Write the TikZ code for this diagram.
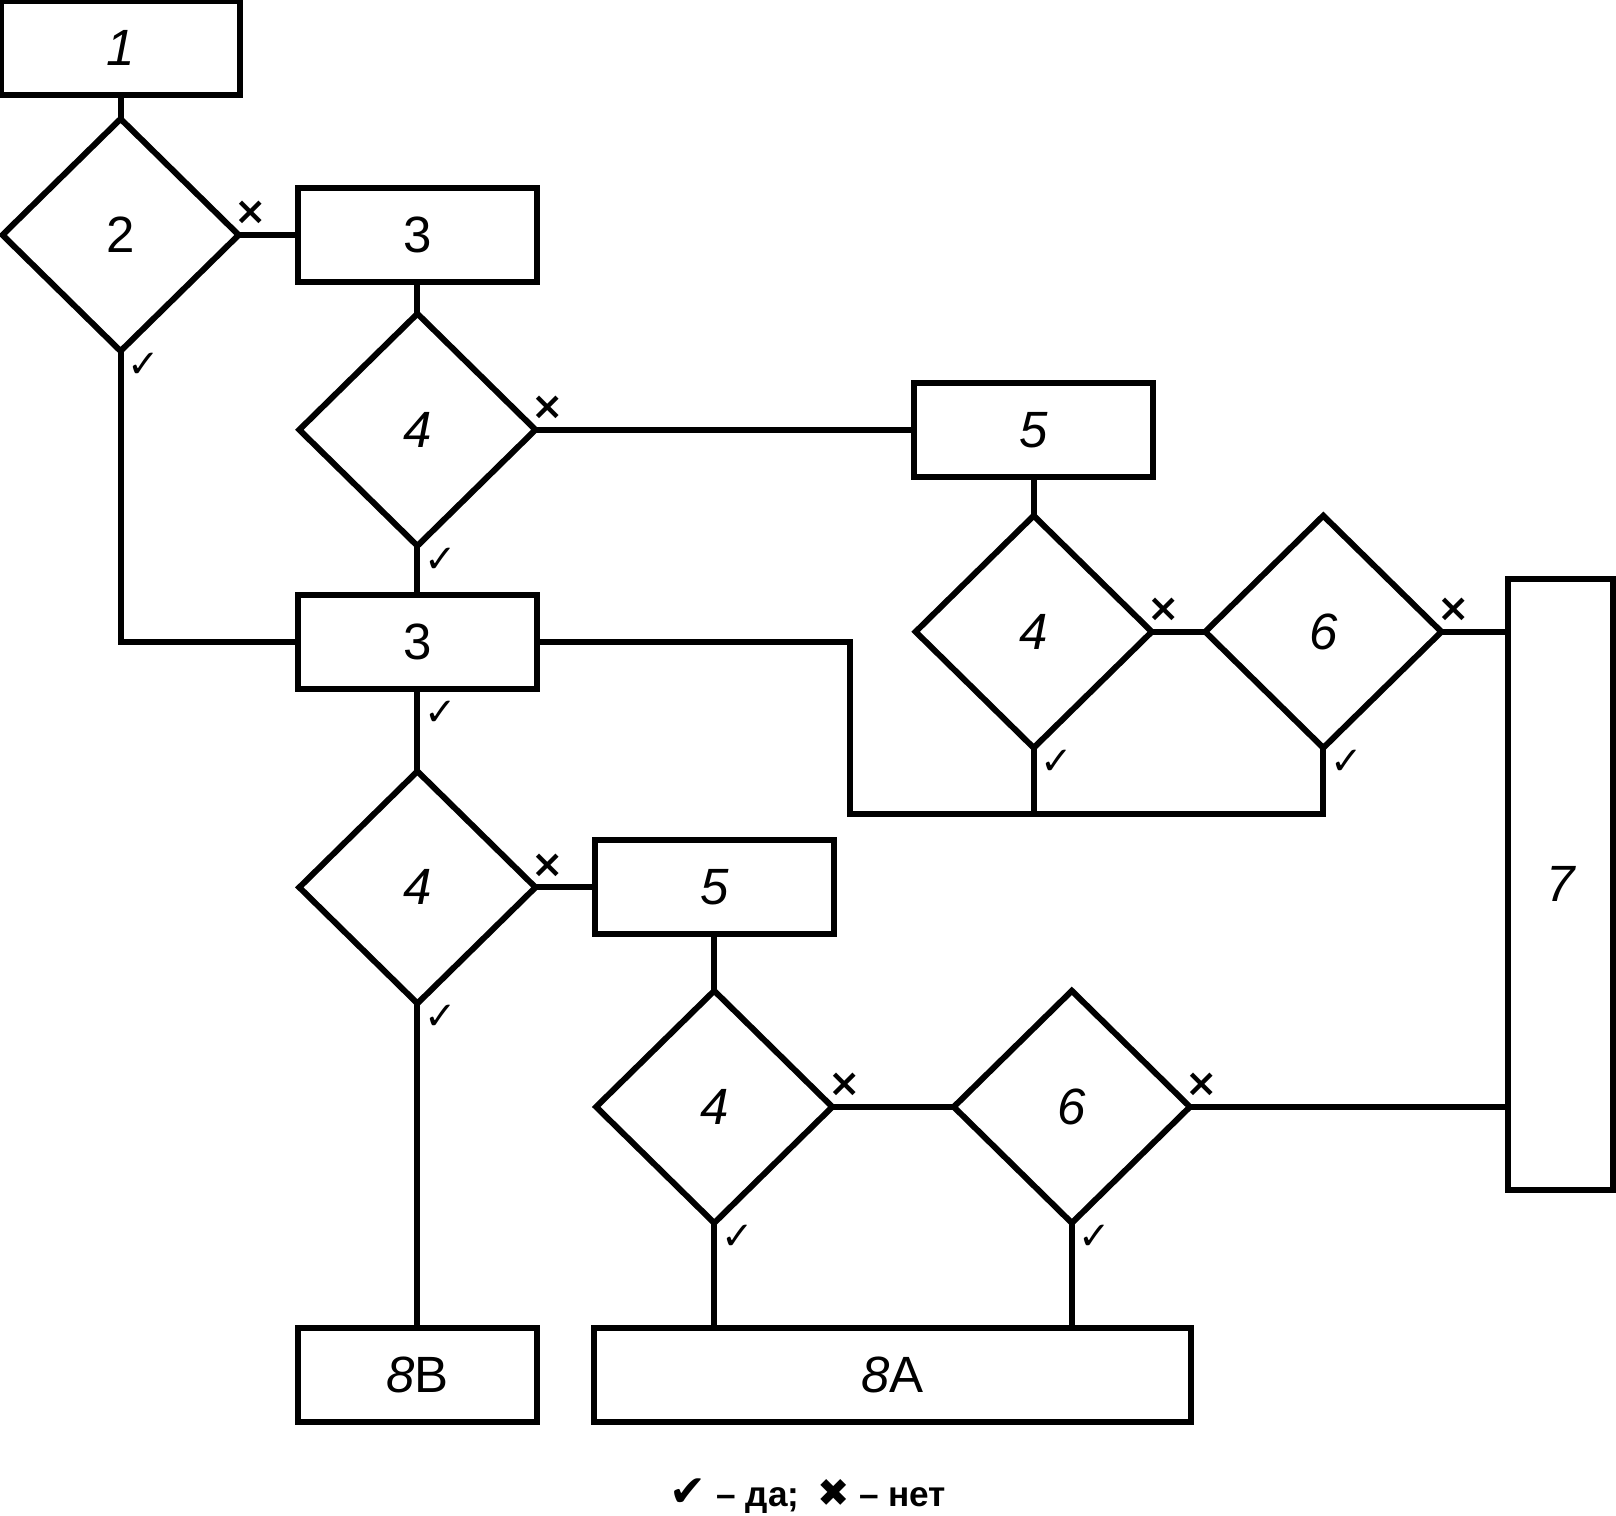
\documentclass[tikz,border=0pt]{standalone}
\usepackage{fontspec}
\setmainfont{Liberation Sans}
\newfontfamily\symfont{DejaVu Sans}
\usetikzlibrary{shapes.geometric}
\tikzset{x=0.0103cm, y=-0.0103cm,
every node/.style={ % Numbers in the blocks
font=\fontsize{14.5}{17}\selectfont},
process/.style={ % Rectangular blocks
draw, rectangle,
line width=1.7pt,
minimum width=2.39cm,
minimum height=0.94cm},
decision/.style={ % Diamond checks
draw, diamond,
line width=1.7pt,
inner sep=0pt, outer sep=0pt,
minimum width=2.36cm,
minimum height=2.32cm},
link/.style={ % Connecting lines
line width=1.7pt},
yeslabel/.style={ % Tick below a branch
font=\symfont\fontsize{11}{13}\selectfont,
inner sep=0pt, xshift=0.23cm, yshift=-0.14cm},
nolabel/.style={ % Cross beside a branch
font=\symfont\bfseries\fontsize{11}{13}\selectfont,
inner sep=0pt, xshift=0.12cm, yshift=0.22cm}}

\begin{document}
\begin{tikzpicture}
	\useasboundingbox (0,0) rectangle (1568,1470);
	\node[process] (b1) at (117,47) {\itshape 1};
	\node[decision] (d2) at (117,228) {2};
	\node[process] (b3a) at (405,228) {3};
	\node[decision] (d4a) at (405,417) {\itshape 4};
	\node[process] (b5a) at (1003,417) {\itshape 5};
	\node[process] (b3b) at (405,623) {3};
	\node[decision] (d4b) at (1003,613) {\itshape 4};
	\node[decision] (d6a) at (1284,613) {\itshape 6};
	\node[process, minimum width=1.05cm, minimum height=6.11cm] (b7) at (1514,858) {\itshape 7};
	\node[decision] (d4c) at (405,861) {\itshape 4};
	\node[process] (b5b) at (693,861) {\itshape 5};
	\node[decision] (d4d) at (693,1074) {\itshape 4};
	\node[decision] (d6b) at (1040,1074) {\itshape 6};
	\node[process] (b8B) at (405,1334) {\textit{8}B};
	\node[process, minimum width=5.97cm] (b8A) at (866,1334) {\textit{8}A};
	\coordinate (j1) at (825,790);
	\node[font=\bfseries\fontsize{10}{12}\selectfont] (legend) at (784,1452) {{\symfont\fontsize{12.5}{12}\selectfont ✔} – да;\enspace {\symfont\fontsize{11}{12}\selectfont ✖} – нет};
	\draw[link] (b1) -- (d2);
	\draw[link] (d2.east) -- node[pos=0, nolabel]{×} (b3a.west);
	\draw[link] (b3a) -- (d4a);
	\draw[link] (d4a.east) -- node[pos=0, nolabel]{×} (b5a.west);
	\draw[link] (d4a.south) -- node[pos=0, yeslabel]{✓} (b3b.north);
	\draw[link] (d2.south) |- node[pos=0, yeslabel]{✓} (b3b.west);
	\draw[link] (b3b.east) -| (j1) -| (d6a.south);
	\draw[link] (d6a.south) -- node[pos=0, yeslabel]{✓} (d6a.south |- j1);
	\draw[link] (d4b.south) -- node[pos=0, yeslabel]{✓} (d4b.south |- j1);
	\draw[link] (b5a) -- (d4b);
	\draw[link] (d4b.east) -- node[pos=0, nolabel]{×} (d6a.west);
	\draw[link] (d6a.east) -- node[pos=0, nolabel]{×} (d6a.east -| b7.west);
	\draw[link] (b3b.south) -- node[pos=0, yeslabel, yshift=-0.07cm]{✓} (d4c.north);
	\draw[link] (d4c.east) -- node[pos=0, nolabel]{×} (b5b.west);
	\draw[link] (d4c.south) -- node[pos=0, yeslabel]{✓} (b8B.north);
	\draw[link] (b5b) -- (d4d);
	\draw[link] (d4d.east) -- node[pos=0, nolabel]{×} (d6b.west);
	\draw[link] (d6b.east) -- node[pos=0, nolabel]{×} (d6b.east -| b7.west);
	\draw[link] (d4d.south) -- node[pos=0, yeslabel]{✓} (d4d.south |- b8A.north);
	\draw[link] (d6b.south) -- node[pos=0, yeslabel]{✓} (d6b.south |- b8A.north);
\end{tikzpicture}
\end{document}
